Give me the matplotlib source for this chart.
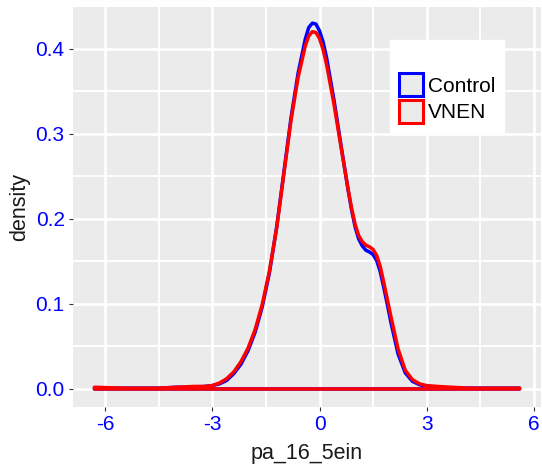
import matplotlib.pyplot as plt
from matplotlib.patches import Patch
from matplotlib.ticker import MultipleLocator

# density curves (x grid shared by both groups)
x_vals = [-6.3, -5.5, -5.0, -4.5, -4.0, -3.5, -3.2, -3.0, -2.8, -2.6, -2.4,
          -2.2, -2.0, -1.8, -1.6, -1.4, -1.2, -1.0, -0.8, -0.6, -0.4, -0.3,
          -0.2, -0.1, 0.0, 0.1, 0.2, 0.4, 0.6, 0.8, 0.9, 1.0, 1.1, 1.2, 1.3,
          1.4, 1.5, 1.6, 1.7, 1.8, 1.9, 2.0, 2.2, 2.4, 2.6, 2.8, 3.0, 3.3,
          3.7, 4.2, 5.0, 5.6]
control = [0.001, 0.001, 0.001, 0.001, 0.002, 0.002, 0.003, 0.004, 0.006,
           0.010, 0.018, 0.029, 0.045, 0.067, 0.097, 0.137, 0.190, 0.254,
           0.318, 0.371, 0.411, 0.425, 0.430, 0.429, 0.421, 0.408, 0.389,
           0.341, 0.287, 0.234, 0.210, 0.190, 0.176, 0.168, 0.163, 0.161,
           0.158, 0.151, 0.138, 0.119, 0.099, 0.078, 0.041, 0.019, 0.009,
           0.005, 0.003, 0.002, 0.001, 0.001, 0.001, 0.001]
vnen = [0.002, 0.001, 0.001, 0.001, 0.002, 0.003, 0.003, 0.004, 0.007,
        0.012, 0.020, 0.032, 0.048, 0.070, 0.100, 0.139, 0.189, 0.252,
        0.315, 0.366, 0.403, 0.415, 0.420, 0.419, 0.412, 0.399, 0.381,
        0.336, 0.285, 0.235, 0.212, 0.193, 0.180, 0.173, 0.169, 0.167,
        0.164, 0.157, 0.144, 0.125, 0.105, 0.085, 0.047, 0.022, 0.011,
        0.006, 0.004, 0.003, 0.002, 0.001, 0.001, 0.001]

groups = ['Control', 'VNEN']
colors = ['#0000FF', '#FF0000']

plt.rcParams['font.family'] = ['Liberation Sans', 'DejaVu Sans']

fig = plt.figure(figsize=(5.42, 4.65), dpi=100)
ax = fig.add_axes([73 / 542, 58 / 465, 468 / 542, 400 / 465])
ax.set_facecolor('#EBEBEB')

# ggplot-like grid
ax.xaxis.set_major_locator(MultipleLocator(3))
ax.xaxis.set_minor_locator(MultipleLocator(1.5))
ax.yaxis.set_major_locator(MultipleLocator(0.1))
ax.yaxis.set_minor_locator(MultipleLocator(0.05))
ax.grid(which='major', color='white', lw=1.9)
ax.grid(which='minor', color='white', lw=1.4)
ax.set_axisbelow(True)
for s in ax.spines.values():
    s.set_visible(False)

# outlines of the densities, closed along y = 0 like geom_density
for y, c in zip([control, vnen], colors):
    ax.fill_between(x_vals, 0, y, facecolor='none', edgecolor=c, lw=2.5,
                    joinstyle='round')

ax.set_xlim(-6.9, 6.2)
ax.set_ylim(-0.0212, 0.449)

ax.tick_params(which='major', length=3, width=0.8, color='#333333',
               labelcolor='#0000FF', labelsize=15, pad=3)
ax.tick_params(which='minor', length=0)
ax.yaxis.set_major_formatter(lambda v, p: f'{v:.1f}')
ax.xaxis.set_major_formatter(lambda v, p: f'{v:.0f}')

ax.set_xlabel('pa_16_5ein', fontsize=15.5, color='#1a1a1a', labelpad=6)
ax.set_ylabel('density', fontsize=15.5, color='#1a1a1a', labelpad=4)

handles = [Patch(facecolor='#EBEBEB', edgecolor=c, lw=2.2, label=g)
           for g, c in zip(groups, colors)]
leg = ax.legend(handles=handles, title=' ', title_fontsize=16, fontsize=15,
                loc='upper left', bbox_to_anchor=(0.6774, 0.9175),
                borderaxespad=0, frameon=True, fancybox=False,
                edgecolor='white', facecolor='white', framealpha=1,
                handlelength=1.15, handleheight=1.32, handletextpad=0.2,
                labelspacing=0.15, borderpad=0.45)

fig.savefig('out.png', dpi=100)
